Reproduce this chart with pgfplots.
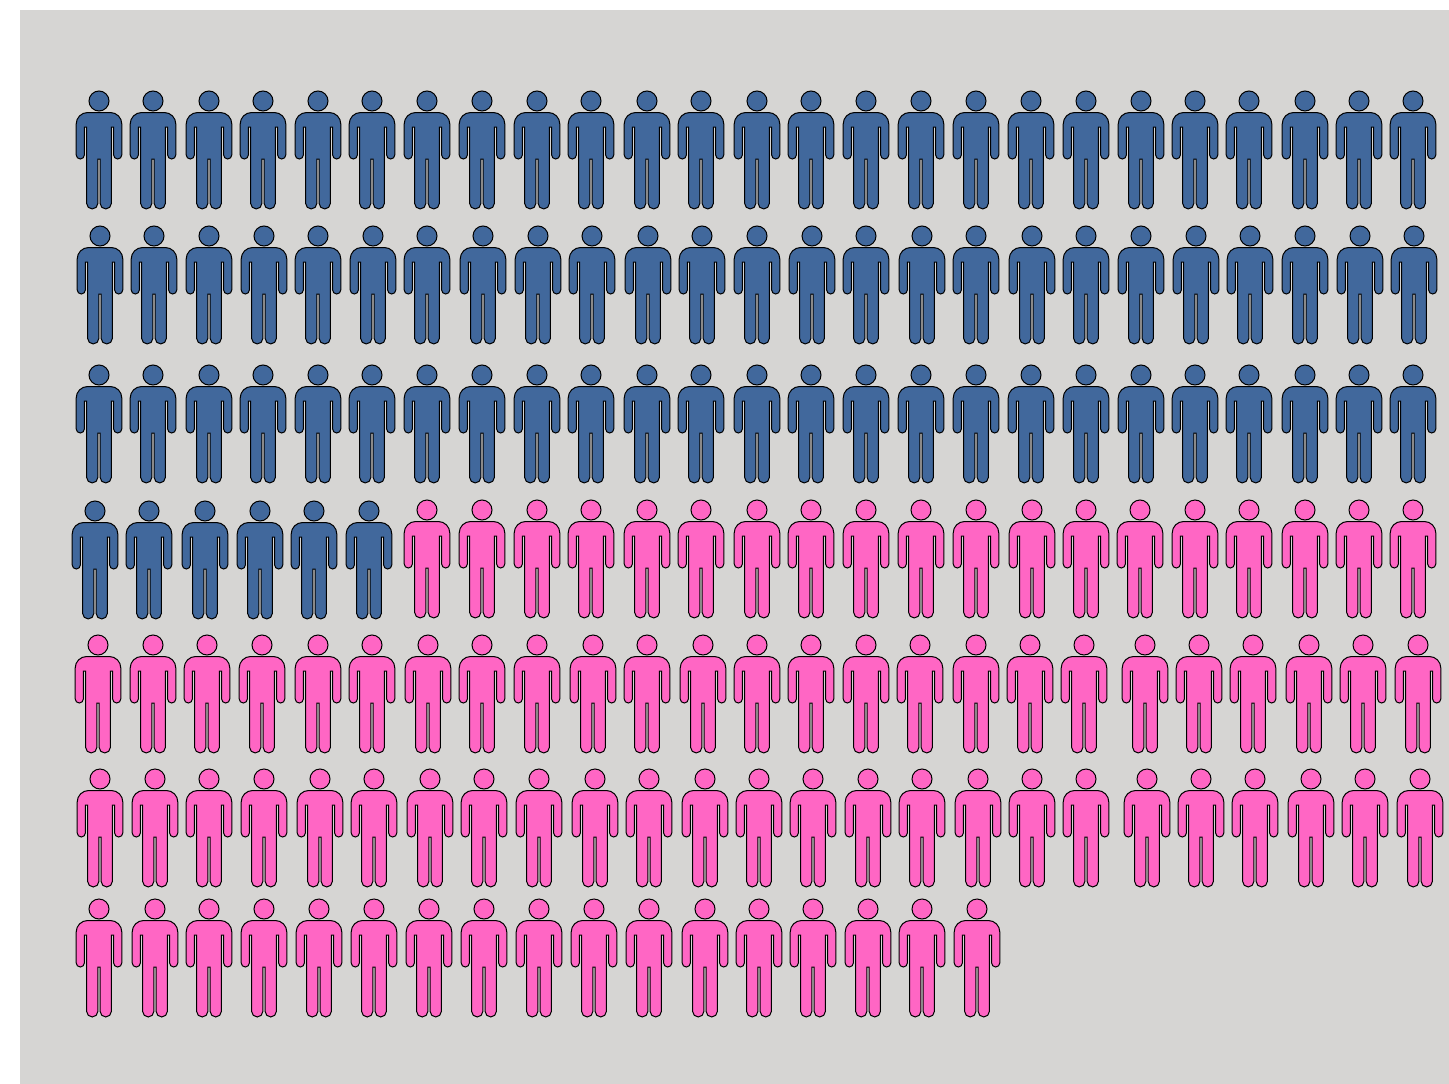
\documentclass[border=0pt]{standalone}
\usepackage{pgfplots}
\pgfplotsset{compat=1.18}
\definecolor{bgc}{HTML}{D6D5D3}
\definecolor{bluep}{HTML}{41689C}
\definecolor{pinkp}{HTML}{FF66C4}
\pgfdeclareplotmark{person}{%
  % head
  \pgfpathcircle{\pgfqpoint{0pt}{0pt}}{10pt}%
  \pgfusepathqfillstroke
  % body
  \pgfpathmoveto{\pgfqpoint{-22.8pt}{-23pt}}%
  \pgfpatharc{180}{90}{11.5pt}%
  \pgfpathlineto{\pgfqpoint{11.3pt}{-11.5pt}}%
  \pgfpatharc{90}{0}{11.5pt}%
  \pgfpathlineto{\pgfqpoint{22.8pt}{-53.9pt}}%
  \pgfpatharc{0}{-180}{4.1pt}%
  \pgfpathlineto{\pgfqpoint{14.6pt}{-26pt}}%
  \pgfpathlineto{\pgfqpoint{12.4pt}{-26pt}}%
  \pgfpathlineto{\pgfqpoint{12.4pt}{-102.3pt}}%
  \pgfpatharc{0}{-180}{5.65pt}%
  \pgfpathlineto{\pgfqpoint{1.1pt}{-58pt}}%
  \pgfpathlineto{\pgfqpoint{-1.1pt}{-58pt}}%
  \pgfpathlineto{\pgfqpoint{-1.1pt}{-102.3pt}}%
  \pgfpatharc{0}{-180}{5.65pt}%
  \pgfpathlineto{\pgfqpoint{-12.4pt}{-26pt}}%
  \pgfpathlineto{\pgfqpoint{-14.6pt}{-26pt}}%
  \pgfpathlineto{\pgfqpoint{-14.6pt}{-53.9pt}}%
  \pgfpatharc{0}{-180}{4.1pt}%
  \pgfpathclose
  \pgfusepathqfillstroke
}
\begin{document}
\begin{tikzpicture}
\begin{axis}[
  scale only axis, width=1449pt, height=1084pt,
  xmin=0, xmax=1449, ymin=0, ymax=1084, y dir=reverse,
  hide axis, clip=false,
]
\addplot[fill=white, draw=none, no marks, sharp plot] coordinates {(0,0)(1449,0)(1449,1084)(0,1084)} --cycle;
\addplot[fill=bgc, draw=none, no marks, sharp plot] coordinates {(20,10)(1449,10)(1449,1084)(20,1084)} --cycle;
\addplot[only marks, mark=person, mark options={fill=bluep, solid, line width=1pt, draw=black}] coordinates {
(99,101)(153,101)(209,101)(263,101)(318,101)(372,101)(427,101)(482,101)(537,101)(591,101)(647,101)(701,101)(757,101)(811,101)(866,101)(921,101)(976,101)(1031,101)(1086,101)(1141,101)(1195,101)(1249,101)(1305,101)(1359,101)(1413,101)
(100,236)(154,236)(209,236)(264,236)(318,236)(373,236)(427,236)(483,236)(538,236)(592,236)(648,236)(702,236)(757,236)(812,236)(866,236)(922,236)(976,236)(1032,236)(1086,236)(1141,236)(1196,236)(1250,236)(1305,236)(1360,236)(1414,236)
(99,375)(153,375)(209,375)(263,375)(318,375)(372,375)(427,375)(482,375)(537,375)(591,375)(647,375)(701,375)(757,375)(811,375)(866,375)(921,375)(976,375)(1031,375)(1086,375)(1141,375)(1195,375)(1249,375)(1305,375)(1359,375)(1413,375)
(95,511)(149,511)(205,511)(260,511)(314,511)(369,511)
};
\addplot[only marks, mark=person, mark options={fill=pinkp, solid, line width=1pt, draw=black}] coordinates {
(427,510)(482,510)(537,510)(591,510)(647,510)(701,510)(757,510)(811,510)(866,510)(921,510)(976,510)(1032,510)(1086,510)(1140,510)(1195,510)(1249,510)(1305,510)(1359,510)(1413,510)
(98,645)(153,645)(207,645)(262,645)(318,645)(372,645)(428,645)(482,645)(537,645)(593,645)(647,645)(703,645)(757,645)(811,645)(866,645)(920,645)(976,645)(1030,645)(1084,645)(1145,645)(1199,645)(1253,645)(1309,645)(1363,645)(1418,645)
(100,779)(155,779)(209,779)(264,779)(320,779)(374,779)(430,779)(484,779)(539,779)(595,779)(649,779)(705,779)(759,779)(813,779)(868,779)(922,779)(978,779)(1032,779)(1086,779)(1147,779)(1201,779)(1255,779)(1311,779)(1365,779)(1420,779)
(99,909)(155,909)(209,909)(264,909)(319,909)(374,909)(429,909)(484,909)(539,909)(594,909)(649,909)(705,909)(759,909)(813,909)(868,909)(922,909)(977,909)
};
\end{axis}
\end{tikzpicture}
\end{document}
